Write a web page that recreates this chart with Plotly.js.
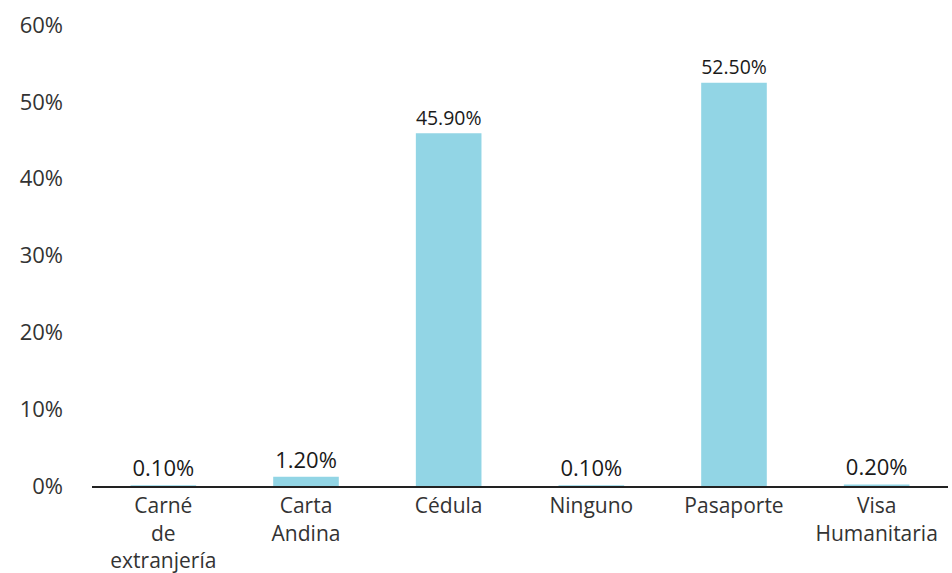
<!DOCTYPE html>
<html>
<head>
<meta charset="utf-8">
<script src="https://cdn.plot.ly/plotly-3.0.1.min.js"></script>
<style>html,body{margin:0;padding:0;background:#fff;}#chart{width:952px;height:573px;}</style>
</head>
<body>
<div id="chart"></div>
<script>
const categories = ["Carné<br>de<br>extranjería", "Carta<br>Andina", "Cédula", "Ninguno", "Pasaporte", "Visa<br>Humanitaria"];
const values = [0.1, 1.2, 45.9, 0.1, 52.5, 0.2];
const labels = ["0.10%", "1.20%", "45.90%", "0.10%", "52.50%", "0.20%"];
const yTickVals = [0, 10, 20, 30, 40, 50, 60];
const yTickText = ["0%", "10%", "20%", "30%", "40%", "50%", "60%"];

const FONT = "'Open Sans', Lato, sans-serif";

Plotly.newPlot("chart", [{
  type: "bar",
  x: categories,
  y: values,
  text: labels,
  textposition: "outside",
  cliponaxis: false,
  textfont: {family: FONT, size: 22, color: "#1a1a1a"},
  marker: {color: "#92d5e5"},
  hoverinfo: "skip"
}], {
  width: 952, height: 573,
  margin: {l: 92, r: 4, t: 25, b: 87},
  paper_bgcolor: "#ffffff",
  plot_bgcolor: "#ffffff",
  bargap: 0.54,
  showlegend: false,
  font: {family: FONT, size: 21, color: "#333333"},
  xaxis: {
    showline: true, linecolor: "#222222", linewidth: 2,
    ticks: "", showgrid: false, zeroline: false,
    tickfont: {family: FONT, size: 21, color: "#333333"},
    ticklabelstandoff: 0
  },
  yaxis: {
    range: [0, 60],
    tickvals: yTickVals, ticktext: yTickText,
    showgrid: false, zeroline: false, showline: false, ticks: "",
    tickfont: {family: FONT, size: 22, color: "#333333"},
    ticklabelstandoff: 28
  }
}, {displayModeBar: false, staticPlot: true});
</script>
</body>
</html>
